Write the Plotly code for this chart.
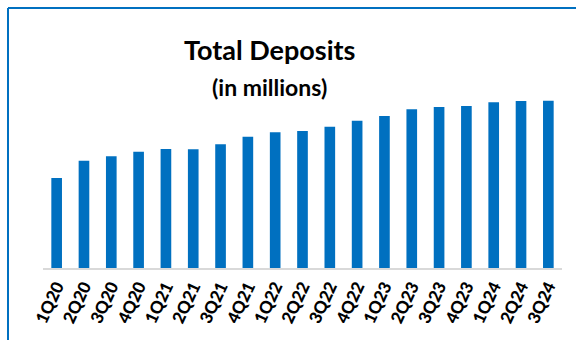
import plotly.graph_objects as go

# Quarter labels and total deposits (in millions)
quarters = ["1Q20", "2Q20", "3Q20", "4Q20", "1Q21", "2Q21", "3Q21", "4Q21",
            "1Q22", "2Q22", "3Q22", "4Q22", "1Q23", "2Q23", "3Q23", "4Q23",
            "1Q24", "2Q24", "3Q24"]
deposits = [900, 1073, 1117, 1163, 1190, 1187, 1237, 1313,
            1357, 1370, 1413, 1473, 1520, 1587, 1610, 1620,
            1657, 1670, 1673]

W, H = 576, 340
L, R, T, B = 43, 14, 90, 72
pw, ph = W - L - R, H - T - B


def px_x(px):
    return (px - L) / pw


def px_y(py):
    return (H - B - py) / ph


BLUE = "#0070C0"
FONT = "Lato"

fig = go.Figure(go.Bar(
    x=quarters,
    y=deposits,
    marker=dict(color=BLUE, line=dict(width=0)),
    width=0.39,
))

fig.update_layout(
    width=W, height=H,
    margin=dict(l=L, r=R, t=T, b=B, pad=0),
    paper_bgcolor="white",
    plot_bgcolor="white",
    showlegend=False,
    font=dict(family=FONT, color="black"),
    xaxis=dict(
        type="category",
        range=[-0.5, len(quarters) - 0.5],
        showline=True, linecolor="#D9D9D9", linewidth=2,
        ticks="", tickangle=-65,
        tickfont=dict(family=FONT, size=17, color="black", weight=900),
        showgrid=False, zeroline=False,
    ),
    yaxis=dict(
        range=[0, 1780],
        visible=False,
    ),
    annotations=[
        dict(text="<b>Total Deposits</b>", x=px_x(269), y=px_y(50),
             xref="paper", yref="paper", showarrow=False,
             xanchor="center", yanchor="middle",
             font=dict(family=FONT, size=27, color="black")),
        dict(text="<b>(in millions)</b>", x=px_x(269), y=px_y(87),
             xref="paper", yref="paper", showarrow=False,
             xanchor="center", yanchor="middle",
             font=dict(family=FONT, size=23, color="black")),
    ],
    shapes=[
        dict(type="line", xref="paper", yref="paper",
             x0=px_x(8), x1=px_x(590), y0=px_y(8), y1=px_y(8),
             line=dict(color=BLUE, width=2)),
        dict(type="line", xref="paper", yref="paper",
             x0=px_x(8), x1=px_x(8), y0=px_y(8), y1=px_y(360),
             line=dict(color=BLUE, width=2)),
    ],
)

fig.write_html("out.html")
